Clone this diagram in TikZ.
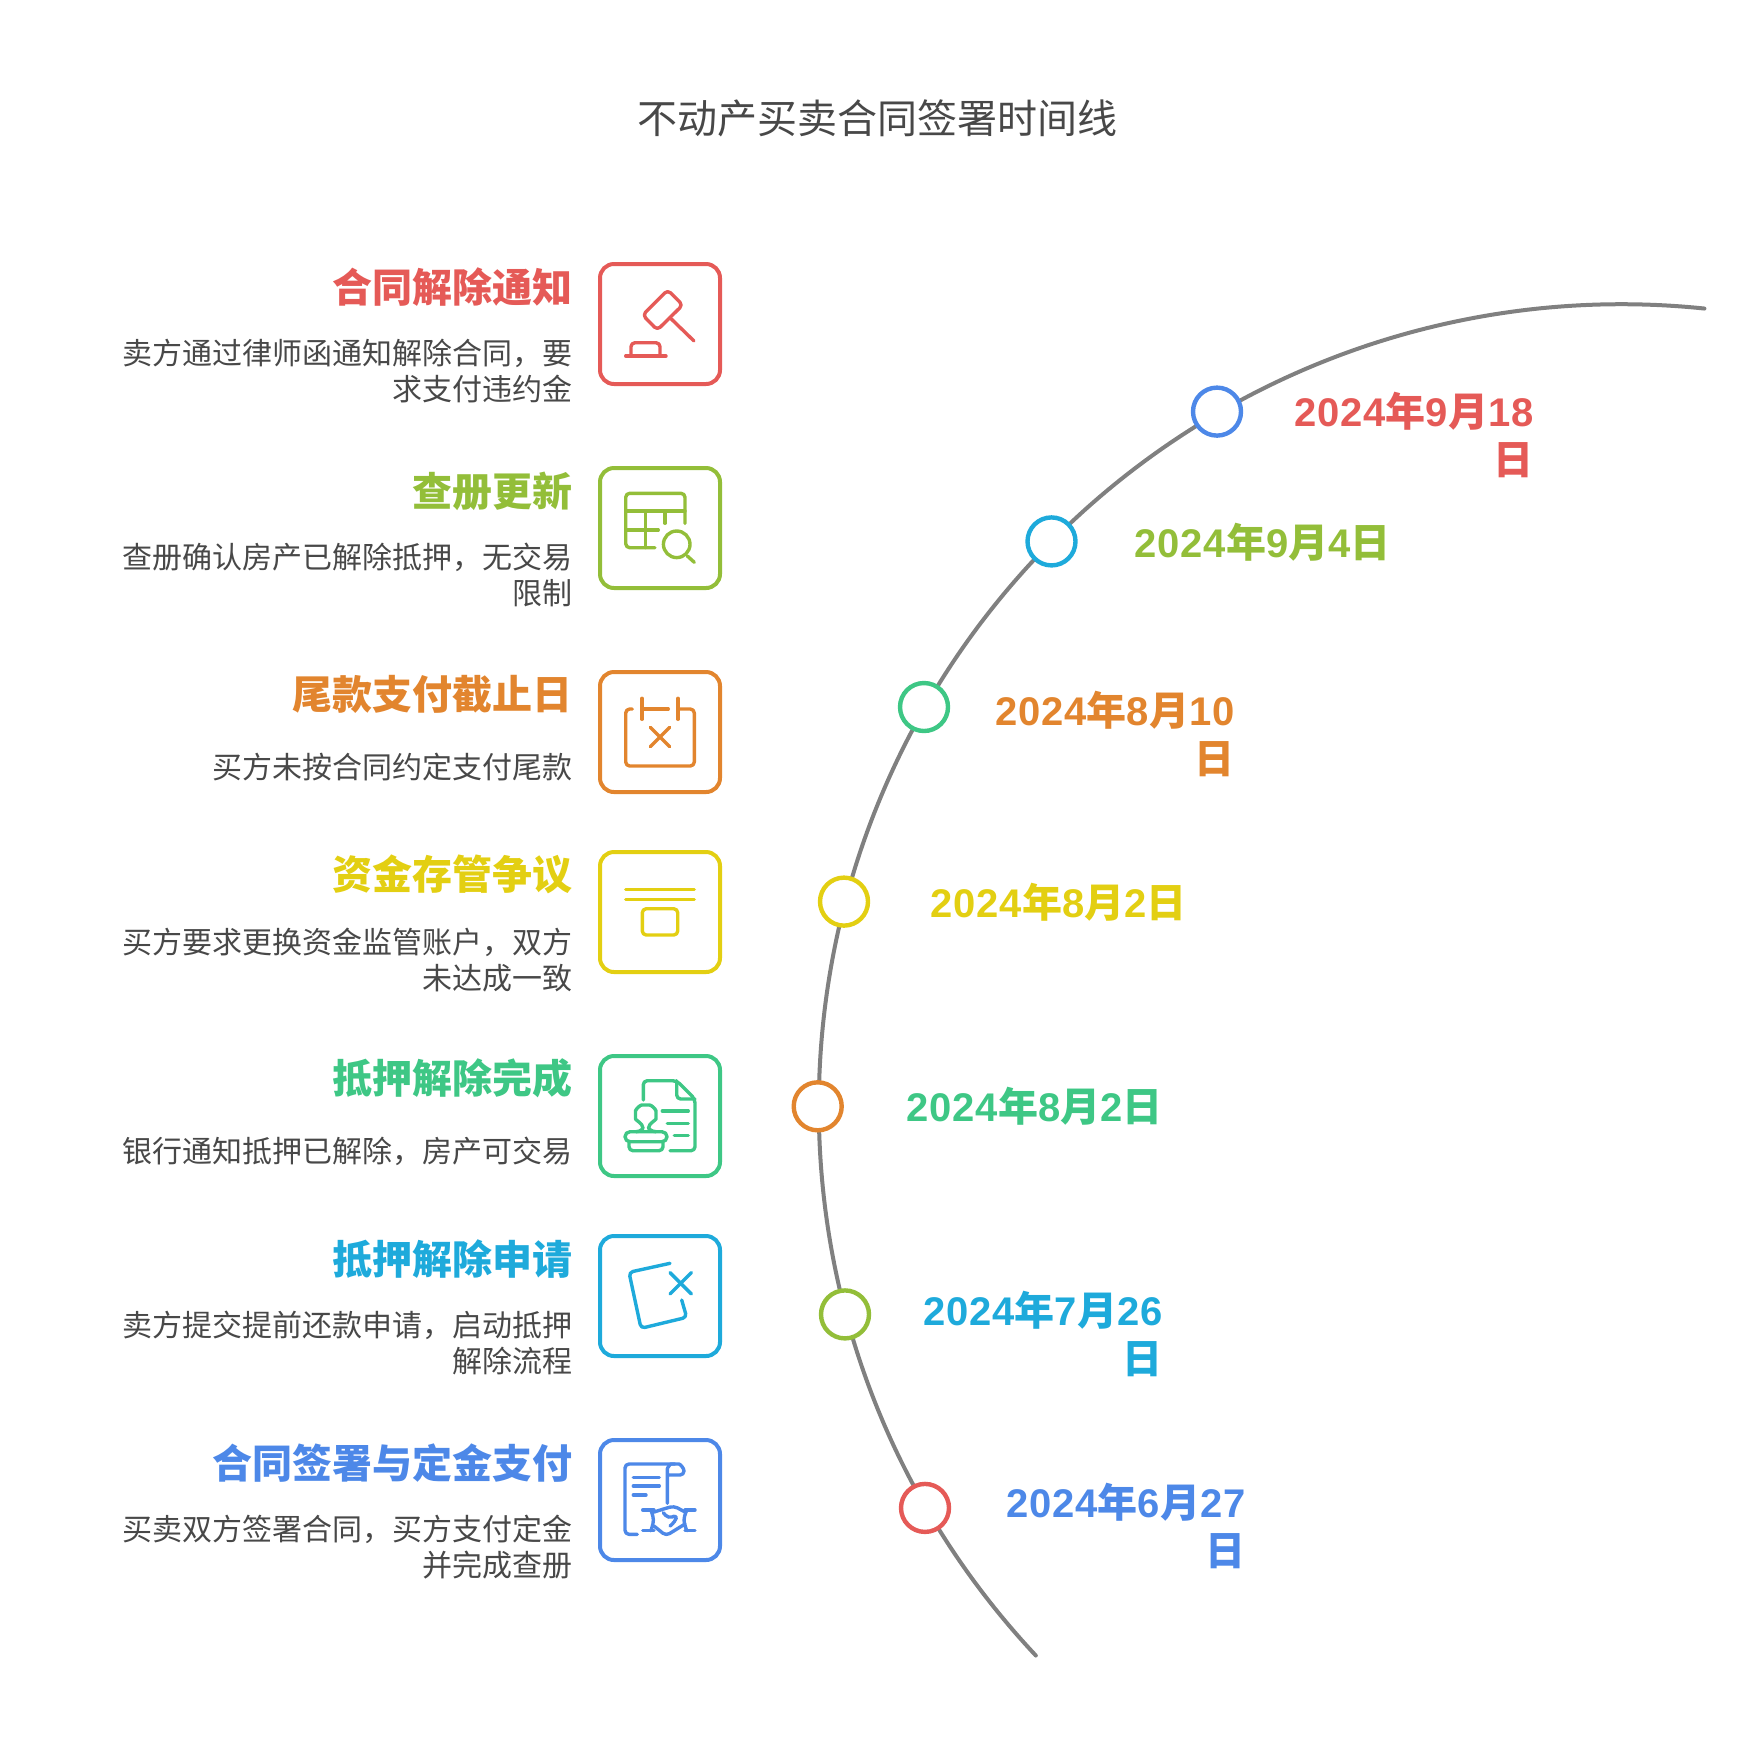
\documentclass[tikz,border=0pt]{standalone}
\usepackage{fontspec}
\setmainfont[LetterSpace=2.4]{Liberation Sans}
\newfontfamily\cjkfont{Noto Sans CJK SC}
\definecolor{cred}{HTML}{E55A57}
\definecolor{clime}{HTML}{93BE39}
\definecolor{corange}{HTML}{E2852E}
\definecolor{cyellow}{HTML}{E3CF12}
\definecolor{cgreen}{HTML}{3EC785}
\definecolor{ccyan}{HTML}{1EAADB}
\definecolor{cblue}{HTML}{4D88E8}
\definecolor{ctext}{HTML}{484848}
\newcommand{\ymd}[2]{2024{\cjkfont 年}#1{\cjkfont 月}#2}
\newcommand{\ri}{{\cjkfont 日}}
\tikzset{
  card/.style={draw=#1, line width=2pt, rounded corners=7pt, minimum size=60pt, inner sep=0pt},
  dot/.style={draw=#1, fill=white, line width=2.2pt, circle, minimum size=24pt, inner sep=0pt},
  headtxt/.style={text=#1, anchor=base east, inner sep=0pt, align=right,
    font=\cjkfont\bfseries\fontsize{20pt}{24pt}\selectfont},
  bodytxt/.style={text=ctext, anchor=base east, inner sep=0pt, align=right,
    font=\cjkfont\fontsize{15pt}{18pt}\selectfont},
  datetxt/.style={text=#1, anchor=base east, inner sep=0pt, align=right,
    font=\bfseries\fontsize{20pt}{24pt}\selectfont},
  icon/.style={draw=#1, line width=1.7pt, line cap=round, line join=round, rounded corners=2pt}
}
\begin{document}
\begin{tikzpicture}[x=0.5pt, y=-0.5pt]
  \useasboundingbox (0, 0) rectangle (1754, 1752);
  \node[text=ctext, font=\cjkfont\fontsize{20pt}{24pt}\selectfont, inner sep=0pt] (title) at (877, 118.6) {不动产买卖合同签署时间线};

  % timeline
  \draw[draw=gray, line width=2pt, line cap=round] (1035.8, 1655.5) arc (136.85:275.95:802.5);
  \node[dot=cblue] (dot1) at (1217, 411.6) {};
  \node[dot=ccyan] (dot2) at (1051.5, 541.4) {};
  \node[dot=cgreen] (dot3) at (924, 707) {};
  \node[dot=cyellow] (dot4) at (844, 901.6) {};
  \node[dot=corange] (dot5) at (817.7, 1106.3) {};
  \node[dot=clime] (dot6) at (845, 1314.4) {};
  \node[dot=cred] (dot7) at (925, 1507.9) {};

  % dates
  \node[datetxt=cred] (date1) at (1534, 474) {\ymd{9}{18}\\\ri};
  \node[datetxt=clime] (date2) at (1391, 557) {\ymd{9}{4}\ri};
  \node[datetxt=corange] (date3) at (1235, 773) {\ymd{8}{10}\\\ri};
  \node[datetxt=cyellow] (date4) at (1187, 917) {\ymd{8}{2}\ri};
  \node[datetxt=cgreen] (date5) at (1163, 1121.7) {\ymd{8}{2}\ri};
  \node[datetxt=ccyan] (date6) at (1163, 1373) {\ymd{7}{26}\\\ri};
  \node[datetxt=cblue] (date7) at (1246, 1565) {\ymd{6}{27}\\\ri};

  % cards
  \node[card=cred] (card1) at (660, 324) {};
  \node[card=clime] (card2) at (660, 528) {};
  \node[card=corange] (card3) at (660, 732) {};
  \node[card=cyellow] (card4) at (660, 912) {};
  \node[card=cgreen] (card5) at (660, 1116) {};
  \node[card=ccyan] (card6) at (660, 1296) {};
  \node[card=cblue] (card7) at (660, 1500) {};

  % headings
  \node[headtxt=cred] (head1) at (573, 302.5) {合同解除通知};
  \node[headtxt=clime] (head2) at (573, 506) {查册更新};
  \node[headtxt=corange] (head3) at (573, 709.7) {尾款支付截止日};
  \node[headtxt=cyellow] (head4) at (573, 889.8) {资金存管争议};
  \node[headtxt=cgreen] (head5) at (573, 1093.3) {抵押解除完成};
  \node[headtxt=ccyan] (head6) at (573, 1274.6) {抵押解除申请};
  \node[headtxt=cblue] (head7) at (573, 1478.2) {合同签署与定金支付};

  % descriptions
  \node[bodytxt] (body1) at (573, 400.7) {卖方通过律师函通知解除合同，要\\求支付违约金};
  \node[bodytxt] (body2) at (573, 604.3) {查册确认房产已解除抵押，无交易\\限制};
  \node[bodytxt] (body3) at (573, 778.8) {买方未按合同约定支付尾款};
  \node[bodytxt] (body4) at (573, 989) {买方要求更换资金监管账户，双方\\未达成一致};
  \node[bodytxt] (body5) at (573, 1162.4) {银行通知抵押已解除，房产可交易};
  \node[bodytxt] (body6) at (573, 1372.6) {卖方提交提前还款申请，启动抵押\\解除流程};
  \node[bodytxt] (body7) at (573, 1576.3) {买卖双方签署合同，买方支付定金\\并完成查册};

  % gavel
  \begin{scope}[shift={(card1.center)}, every path/.style={icon=cred}]
    \draw (7.7, -34) -- (22.7, -19) -- (-2.7, 6) -- (-17.3, -9) -- cycle;
    \draw (10, -6.3) -- (34, 17);
    \draw (-34.3, 32) -- (6, 32);
    \draw (-29, 32) -- (-29, 18.7) -- (0, 18.7) -- (0, 32);
  \end{scope}

  % table and lens
  \begin{scope}[shift={(card2.center)}, every path/.style={icon=clime}]
    \draw (25, -4.7) -- (25, -34.7) -- (-34.3, -34.7) -- (-34.3, 19.7) -- (-5, 19.7);
    \draw (-34.3, -17) -- (25, -17);
    \draw (-14.3, -17) -- (-14.3, 19.7);
    \draw (5, -17) -- (5, -4.7);
    \draw (-34.3, 2) -- (-1.7, 2);
    \draw (16.7, 16.3) circle (13.3);
    \draw (27.3, 28) -- (34.3, 34.3);
  \end{scope}

  % calendar
  \begin{scope}[shift={(card3.center)}, every path/.style={icon=corange}]
    \draw (-27.7, -23) -- (-34.3, -23) -- (-34.3, 34) -- (34.3, 34) -- (34.3, -23) -- (18.3, -23);
    \draw (-18, -33.7) -- (-18, -12.7);
    \draw (18, -33.7) -- (18, -12.7);
    \draw (-18, -23) -- (8.3, -23);
    \draw (-9.7, -4.7) -- (9.7, 14.7);
    \draw (9.7, -4.7) -- (-9.7, 14.7);
  \end{scope}

  % lines and box
  \begin{scope}[shift={(card4.center)}, every path/.style={icon=cyellow}]
    \draw (-34.3, -22.7) -- (34.3, -22.7);
    \draw (-34.3, -12.7) -- (34.3, -12.7);
    \draw (-17.7, -3.3) rectangle (17.7, 23);
  \end{scope}

  % stamp and document
  \begin{scope}[shift={(card5.center)}, every path/.style={icon=cgreen}]
    \draw (-16.7, -16) -- (-16.7, -35.3) -- (16.7, -35.3) -- (35, -17) -- (35, 34.7) -- (10, 34.7);
    \draw (16.7, -35.3) -- (16.7, -17) -- (35, -17);
    \draw (2.3, -5) -- (28.3, -5);
    \draw (7.3, 7.3) -- (28.3, 7.3);
    \draw (14.3, 19.3) -- (28.3, 19.3);
    \draw (-24, 15.7) .. controls (-19, 15.7) and (-17, 12) .. (-17.5, 8) .. controls (-22, 5.5) and (-24.5, 3) .. (-24.5, -1) .. controls (-24.5, -6.5) and (-20, -11) .. (-14.3, -11) .. controls (-8.5, -11) and (-4, -6.5) .. (-4, -1) .. controls (-4, 3) and (-6.5, 5.5) .. (-11, 8) .. controls (-11.5, 12) and (-9, 15.7) .. (-4, 15.7);
    \draw[rounded corners=2.5pt] (-35, 15.7) rectangle (7, 25.7);
    \draw (-31, 25.7) -- (-31, 34.7) -- (3, 34.7) -- (3, 25.7);
  \end{scope}

  % tilted square
  \begin{scope}[shift={(card6.center)}, every path/.style={icon=ccyan}]
    \draw (10, -32.7) -- (-31, -23.7) -- (-19, 32.3) -- (26.7, 21.3) -- (21.7, 4);
    \draw (10, -23.4) -- (31.4, -2);
    \draw (31.4, -23.4) -- (10, -2);
  \end{scope}

  % scroll and handshake
  \begin{scope}[shift={(card7.center)}, every path/.style={icon=cblue}]
    \draw (-22.7, 34.3) -- (-35, 34.3) -- (-35, -36) -- (15, -36);
    \draw (7.3, 3.3) -- (7.3, -27) .. controls (7.3, -32) and (10, -36) .. (15, -36) .. controls (20, -36) and (24, -32) .. (24, -25) -- (7.3, -25);
    \draw (-26.7, -22.7) -- (-0.7, -22.7);
    \draw (-26.7, -14) -- (-0.7, -14);
    \draw (-26.7, -5) -- (-14, -5);
    \draw (-17.3, 10) -- (-6, 10);
    \draw (-17.3, 30.7) -- (-6, 30.7);
    \draw (25, 10) -- (35, 10);
    \draw (25, 30.7) -- (35, 30.7);
    \draw (-9, 10) -- (-6, 20) -- (-9, 30.7);
    \draw (26.7, 10) -- (23.3, 20) -- (26.7, 30.7);
    \draw (-6, 12) -- (5, 8.5) -- (14, 6) -- (25, 12);
    \draw (-6, 26) -- (6, 35.7) -- (25, 24);
    \draw (3.3, 12.7) -- (8.3, 18.3) -- (17.3, 15) -- (15, 21.7) -- (10, 26);
  \end{scope}
\end{tikzpicture}
\end{document}
